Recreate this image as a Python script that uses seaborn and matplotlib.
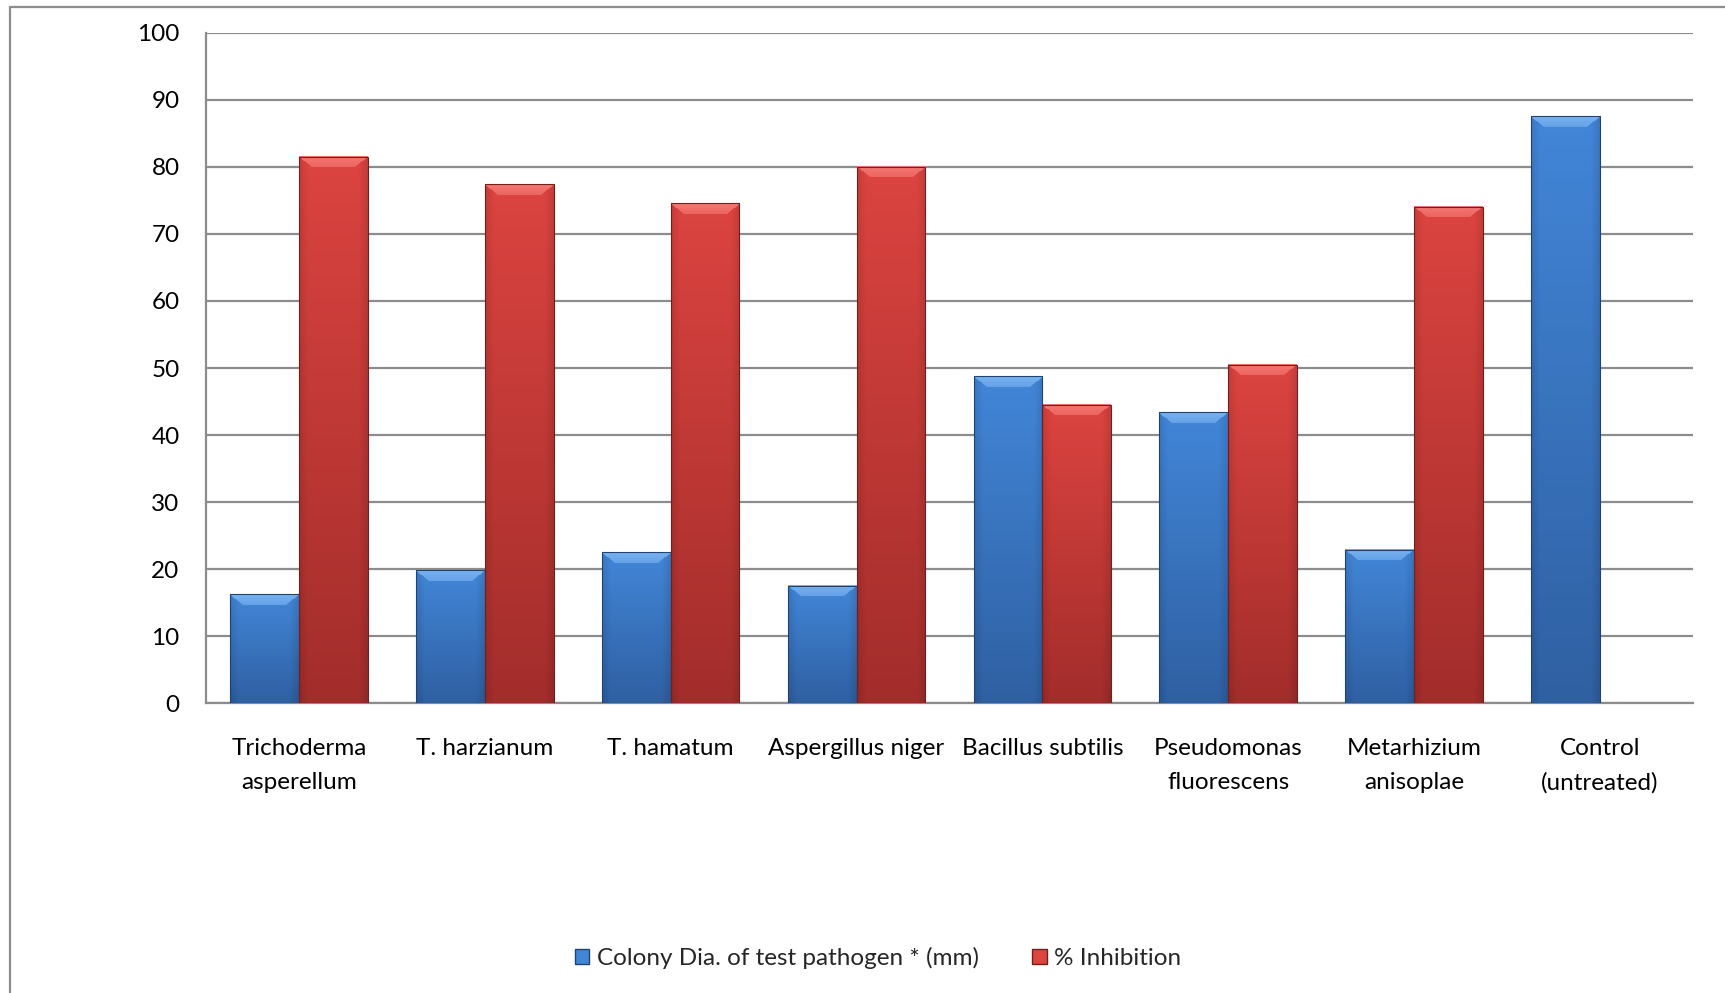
import numpy as np
import pandas as pd
import matplotlib
matplotlib.use("Agg")
import matplotlib.pyplot as plt
import seaborn as sns
from matplotlib.lines import Line2D

categories = ["Trichoderma\nasperellum", "T. harzianum", "T. hamatum", "Aspergillus niger",
              "Bacillus subtilis", "Pseudomonas\nfluorescens", "Metarhizium\nanisoplae",
              "Control\n(untreated)"]
colony_dia = [16.2, 19.8, 22.5, 17.5, 48.8, 43.4, 22.9, 87.6]
inhibition = [81.5, 77.4, 74.6, 80.0, 44.5, 50.5, 74.1, np.nan]
series = ["Colony Dia. of test pathogen * (mm)", "% Inhibition"]

df = pd.DataFrame({
    "category": categories * 2,
    "value": colony_dia + inhibition,
    "series": [series[0]] * len(categories) + [series[1]] * len(categories),
})

sns.set_theme(style="white")
plt.rcParams["font.family"] = ["Lato", "DejaVu Sans"]

fig = plt.figure(figsize=(17.25, 9.93), dpi=100)
ax = fig.add_axes([0.1194, 0.292, 0.862, 0.6748])

# top / bottom colours of the shaded bars
shades = {
    series[0]: dict(top=(66, 134, 216), bot=(47, 96, 162), bevel=(120, 178, 240)),
    series[1]: dict(top=(220, 68, 64), bot=(162, 45, 43), bevel=(245, 120, 115)),
}
palette = {s: np.array(shades[s]["top"]) / 255 for s in series}

sns.barplot(data=df, x="category", y="value", hue="series", palette=palette,
            width=0.74, saturation=1, ax=ax, zorder=2)

ax.set_ylim(0, 100)
ax.set_yticks(range(0, 101, 10))
ax.yaxis.grid(True, color="#8c8c8c", linewidth=1.6, zorder=0)
ax.set_axisbelow(True)
for side in ["top", "right"]:
    ax.spines[side].set_visible(False)
for side in ["left", "bottom"]:
    ax.spines[side].set_color("#8c8c8c")
    ax.spines[side].set_linewidth(1.6)
ax.set_xlabel("")
ax.set_ylabel("")
ax.tick_params(axis="y", length=0, pad=19, labelsize=17.5, labelcolor="black")
ax.tick_params(axis="x", length=0, pad=25, labelsize=17.5, labelcolor="black")
for t in ax.get_xticklabels():
    t.set_linespacing(1.75)

# shaded fill for every bar (gradient + bevelled top)
hue_of = []
n = len(categories)
for i, s in enumerate(series):
    hue_of += [s] * n
bars = [p for p in ax.patches if hasattr(p, "get_height")]
for p, s in zip(bars, hue_of):
    h = p.get_height()
    if not np.isfinite(h) or h <= 0:
        continue
    x0, w = p.get_x(), p.get_width()
    rows = max(int(h * 6.7), 4)
    cols = 62
    top = np.array(shades[s]["top"], float)
    bot = np.array(shades[s]["bot"], float)
    t = np.linspace(0, 1, rows)[:, None, None]
    img = top * (1 - t) + bot * t
    img = np.repeat(img, cols, axis=1)
    xs = np.linspace(-1, 1, cols)
    side = 1 - 0.10 * np.clip((np.abs(xs) - 0.75) / 0.25, 0, 1)
    img = img * side[None, :, None]
    bev = min(11, rows // 3)
    bc = np.array(shades[s]["bevel"], float)
    for r in range(bev):
        k = int(round(r * 1.1))
        img[r, k:cols - k] = bc * (1 - 0.4 * r / bev) + top * (0.4 * r / bev)
    img = np.clip(img, 0, 255).astype(np.uint8)
    ax.imshow(img, extent=[x0, x0 + w, 0, h], aspect="auto", zorder=3,
              interpolation="bilinear")
    p.set_edgecolor(tuple(bot / 255 * 0.7))
    p.set_linewidth(0.8)
    p.set_zorder(4)
    p.set_facecolor("none")

ax.set_xlim(-0.5, n - 0.5)

handles = [plt.Rectangle((0, 0), 1, 1, facecolor=np.array(shades[s]["top"]) / 255,
                         edgecolor=np.array(shades[s]["bot"]) / 255 * 0.7) for s in series]
ax.legend(handles, series, loc="center", bbox_to_anchor=(0.509, 0.035),
          bbox_transform=fig.transFigure, ncol=2, frameon=False, fontsize=17.5,
          handlelength=0.6, handleheight=0.6, handletextpad=0.3, columnspacing=2.2)

# outer chart frame
fig.add_artist(Line2D([10 / 1725, 10 / 1725], [0, 1 - 7 / 993], color="#8c8c8c", lw=1.6))
fig.add_artist(Line2D([10 / 1725, 1], [1 - 7 / 993, 1 - 7 / 993], color="#8c8c8c", lw=1.6))

fig.savefig("out.png", dpi=100)
